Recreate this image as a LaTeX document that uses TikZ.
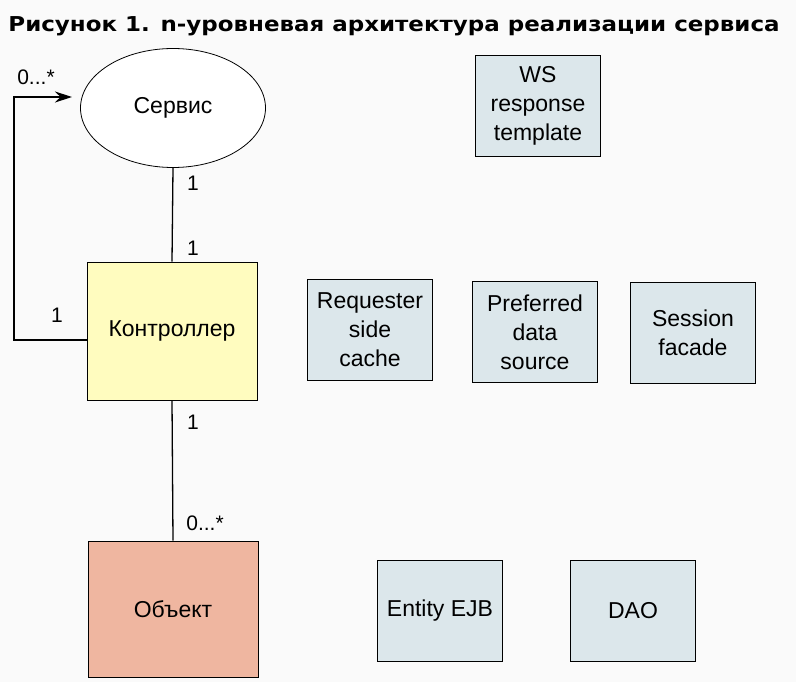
\documentclass[tikz,border=0pt]{standalone}
\usepackage{fontspec}
\setmainfont{Liberation Sans}
\newfontfamily\titlefont{DejaVu Sans}
\usetikzlibrary{arrows.meta,shapes.geometric}
\tikzset{
every mult/.style={font=\fontsize{21}{25}\selectfont},
}

\begin{document}
\begin{tikzpicture}[x=1pt, y=-1pt, font=\fontsize{23}{29}\selectfont,
						boxy/.style={draw, thick, fill=yellow!25!white, minimum width=170pt, minimum height=138pt, inner sep=0pt},
                        boxr/.style={draw, thick, fill={rgb,255:red,239;green,182;blue,160}, minimum width=170pt, minimum height=136pt, inner sep=0pt},
                        boxb/.style={draw, thick, fill={rgb,255:red,220;green,231;blue,235}, minimum width=125pt, minimum height=101pt, inner sep=0pt, align=center},
                        mult/.style={every mult, inner sep=1pt},
                        link/.style={line width=1.3pt},
					]
					\fill[white!98!black] (0,0) rectangle (796,682);
					\node[font=\titlefont\bfseries\fontsize{20.5}{24}\selectfont, anchor=base, xscale=1.12] (title) at (394,32) {Рисунок 1. n-уровневая архитектура реализации сервиса};
					% left column
					\node[draw, thick, fill=white, ellipse, minimum width=185pt, minimum height=119pt, inner sep=0pt] (serv) at (173,108) {Сервис};
					\node[boxy] (ctrl) at (172,331) {Контроллер};
					\node[boxr] (obj) at (173,609) {Объект};
                    \draw[link] (serv.south) -- (ctrl.north);
                    \draw[link] (ctrl.south) -- (obj.north);
                    \coordinate (loop) at (14,97); \coordinate (tip) at (72,97);
                    \draw[link, -{Stealth[length=17pt, width=11pt]}] ([yshift=-9pt]ctrl.west) -| (loop) -- (tip);
                    \node[mult] at (193,183) {1};
                    \node[mult] at (193,248) {1};
                    \node[mult] at (193,422) {1};
                    \node[mult] at (57,315) {1};
                    \node[mult] at (36,77) {0...*};
                    \node[mult] at (205,523) {0...*};
					% patterns
					\node[boxb] (wsrt) at (538,106) {WS\\response\\template};
					\node[boxb] (rsc) at (370,330) {Requester\\side\\cache};
					\node[boxb] (pds) at (535,332) {Preferred\\data\\source};
					\node[boxb] (sf) at (693,333) {Session\\facade};
					\node[boxb] (ejb) at (440,611) {Entity EJB};
					\node[boxb] (dao) at (633,611) {DAO};
	\end{tikzpicture}
\end{document}
